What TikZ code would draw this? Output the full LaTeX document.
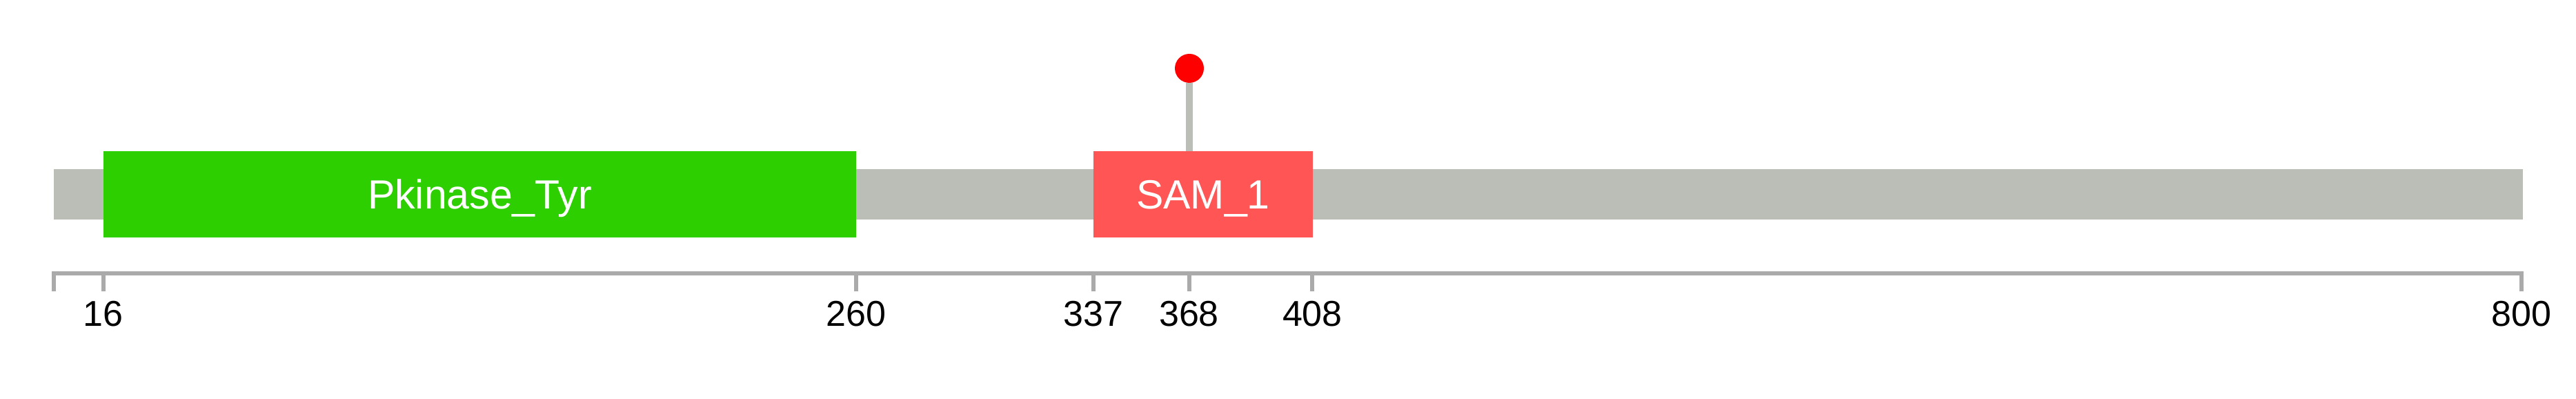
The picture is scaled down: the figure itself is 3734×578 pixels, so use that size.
\documentclass[tikz,border=0pt]{standalone}
\usepackage{fontspec}
\setmainfont{Liberation Sans}
\definecolor{bargray}{HTML}{BBBDB7}
\definecolor{pkgreen}{HTML}{2ECF00}
\definecolor{samred}{HTML}{FF5555}
\definecolor{axisgray}{HTML}{AAAAAA}
\definecolor{mutred}{HTML}{FF0000}
\tikzset{
  domainbox/.style={draw=none, inner sep=0pt, minimum height=125pt, anchor=south west, text=white,
    text height=42pt, text depth=0pt, font=\fontsize{59}{66}\selectfont},
  ticklabel/.style={inner sep=0pt, anchor=base, font=\fontsize{52}{60}\selectfont, text=black},
  axisline/.style={draw=axisgray, line width=6pt},
  tickline/.style={draw=axisgray, line width=6pt},
}
\begin{document}
\begin{tikzpicture}[x=1pt,y=1pt]
\useasboundingbox (0,0) rectangle (3734,578);
% backbone
\fill[bargray] (78,260) rectangle (3657,333);
% domains
\node[domainbox, fill=pkgreen, minimum width=1091.5pt] (pk) at (149.5,234) {Pkinase\_Tyr};
\node[domainbox, fill=samred, minimum width=317.5pt] (sam) at (1585,234) {SAM\_1};
% mutation lollipop
\coordinate (stembase) at (1724,359);
\node[circle, fill=mutred, minimum size=42pt, inner sep=0pt] (mut) at (1724,479) {};
\draw[draw=bargray, line width=10pt] (stembase) -- (mut.south);
% axis
\coordinate (ax0) at (78,182);
\coordinate (ax1) at (3655,182);
\draw[axisline] ([xshift=-3pt]ax0) -- ([xshift=3pt]ax1);
\foreach \p/\lab in {0/, 16/16, 260/260, 337/337, 368/368, 408/408, 800/800}{
  \pgfmathsetmacro{\xx}{78+4.4715*\p}
  \draw[tickline] (\xx,182) -- (\xx,156);
  \node[ticklabel] (lab\p) at (\xx,105) {\lab};
}
\end{tikzpicture}
\end{document}
